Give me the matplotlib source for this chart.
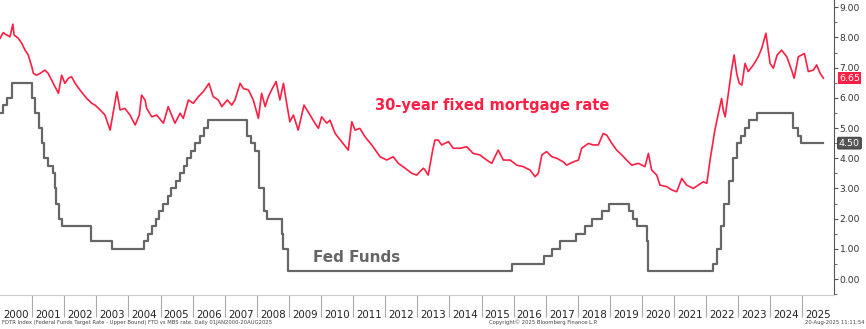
#!/usr/bin/env python

import numpy as np
import matplotlib
matplotlib.use('Agg')
import matplotlib.pyplot as plt
from matplotlib.ticker import FixedLocator, MultipleLocator, FormatStrFormatter
import matplotlib.transforms as mtrans

# 30-year fixed mortgage rate (decimal year, %)
mort_t = [2000.00, 2000.10, 2000.21, 2000.31, 2000.40, 2000.44, 2000.57, 2000.68, 2000.78, 2000.88,
          2000.99, 2001.04, 2001.14, 2001.25, 2001.40, 2001.50, 2001.66, 2001.82, 2001.92, 2002.02,
          2002.13, 2002.23, 2002.34, 2002.49, 2002.70, 2002.86, 2002.96, 2003.12, 2003.27, 2003.43,
          2003.64, 2003.74, 2003.89, 2004.05, 2004.21, 2004.34, 2004.41, 2004.52, 2004.57, 2004.73,
          2004.88, 2005.09, 2005.24, 2005.45, 2005.61, 2005.71, 2005.87, 2006.02, 2006.18, 2006.33,
          2006.51, 2006.64, 2006.80, 2006.91, 2007.08, 2007.22, 2007.32, 2007.48, 2007.58, 2007.74,
          2007.89, 2008.05, 2008.15, 2008.26, 2008.36, 2008.46, 2008.60, 2008.72, 2008.83, 2008.93,
          2009.03, 2009.14, 2009.29, 2009.47, 2009.66, 2009.81, 2009.92, 2010.02, 2010.18, 2010.28,
          2010.44, 2010.64, 2010.85, 2010.96, 2011.06, 2011.21, 2011.37, 2011.58, 2011.84, 2012.05,
          2012.25, 2012.41, 2012.62, 2012.83, 2012.98, 2013.19, 2013.24, 2013.34, 2013.48, 2013.55,
          2013.65, 2013.76, 2013.97, 2014.12, 2014.33, 2014.54, 2014.74, 2014.95, 2015.16, 2015.32,
          2015.52, 2015.68, 2015.89, 2016.10, 2016.30, 2016.51, 2016.67, 2016.77, 2016.88, 2017.03,
          2017.19, 2017.34, 2017.55, 2017.65, 2017.86, 2018.02, 2018.12, 2018.33, 2018.48, 2018.64,
          2018.79, 2018.90, 2019.06, 2019.21, 2019.37, 2019.52, 2019.68, 2019.89, 2020.09, 2020.20,
          2020.30, 2020.46, 2020.56, 2020.77, 2020.93, 2021.08, 2021.24, 2021.39, 2021.60, 2021.75,
          2021.91, 2022.02, 2022.12, 2022.27, 2022.38, 2022.48, 2022.53, 2022.59, 2022.69, 2022.79,
          2022.87, 2022.95, 2023.03, 2023.11, 2023.21, 2023.31, 2023.47, 2023.62, 2023.73, 2023.86,
          2023.99, 2024.09, 2024.21, 2024.35, 2024.51, 2024.66, 2024.74, 2024.87, 2025.06, 2025.18,
          2025.34, 2025.44, 2025.55, 2025.65]
mort_v = [7.97, 8.16, 8.08, 8.02, 8.44, 8.08, 7.97, 7.80, 7.58, 7.42,
          7.03, 6.81, 6.75, 6.81, 6.92, 6.81, 6.48, 6.15, 6.75, 6.48,
          6.65, 6.70, 6.48, 6.26, 5.98, 5.82, 5.76, 5.60, 5.43, 4.93,
          6.20, 5.60, 5.65, 5.43, 5.10, 5.43, 6.09, 5.93, 5.65, 5.37,
          5.43, 5.16, 5.71, 5.16, 5.49, 5.32, 5.93, 5.82, 6.04, 6.20,
          6.48, 6.04, 5.93, 5.71, 5.93, 5.76, 5.93, 6.48, 6.31, 6.26,
          5.93, 5.32, 6.15, 5.71, 6.04, 6.26, 6.54, 5.93, 6.48, 5.82,
          5.21, 5.43, 4.93, 5.76, 5.43, 5.16, 4.99, 5.37, 5.16, 5.26,
          4.82, 4.55, 4.27, 5.21, 4.93, 4.99, 4.71, 4.44, 4.05, 3.94,
          4.05, 3.83, 3.67, 3.50, 3.44, 3.67, 3.61, 3.44, 4.27, 4.60,
          4.60, 4.44, 4.55, 4.33, 4.33, 4.38, 4.16, 4.11, 3.94, 3.83,
          4.27, 3.94, 3.94, 3.77, 3.72, 3.61, 3.39, 3.50, 4.11, 4.22,
          4.05, 4.00, 3.88, 3.77, 3.88, 3.94, 4.33, 4.49, 4.44, 4.44,
          4.82, 4.77, 4.49, 4.27, 4.11, 3.94, 3.77, 3.83, 3.72, 4.16,
          3.61, 3.44, 3.11, 3.06, 2.95, 2.89, 3.33, 3.11, 3.00, 3.11,
          3.22, 3.17, 3.94, 4.93, 5.49, 5.98, 5.60, 5.37, 6.15, 6.92,
          7.42, 6.81, 6.48, 6.42, 7.14, 6.87, 7.09, 7.36, 7.64, 8.14,
          7.14, 6.98, 7.42, 7.58, 7.36, 6.92, 6.65, 7.36, 7.47, 6.87,
          6.92, 7.09, 6.81, 6.65]

# Fed funds target rate, upper bound (change dates as decimal year, %)
fed_t = [2000.00, 2000.09, 2000.22, 2000.37, 2001.01, 2001.08, 2001.21, 2001.30, 2001.37, 2001.49,
         2001.64, 2001.71, 2001.75, 2001.85, 2001.94, 2002.85, 2003.48, 2004.50, 2004.61, 2004.72,
         2004.86, 2004.95, 2005.09, 2005.22, 2005.34, 2005.49, 2005.61, 2005.72, 2005.83, 2005.95,
         2006.08, 2006.24, 2006.36, 2006.49, 2007.71, 2007.83, 2007.94, 2008.06, 2008.08, 2008.21,
         2008.33, 2008.77, 2008.82, 2008.96, 2015.96, 2016.95, 2017.20, 2017.45, 2017.95, 2018.22,
         2018.45, 2018.74, 2018.97, 2019.58, 2019.71, 2019.83, 2020.17, 2020.20, 2022.21, 2022.34,
         2022.46, 2022.57, 2022.72, 2022.84, 2022.96, 2023.09, 2023.22, 2023.34, 2023.57, 2024.71,
         2024.85, 2024.96, 2025.64]
fed_v = [5.50, 5.75, 6.00, 6.50, 6.00, 5.50, 5.00, 4.50, 4.00, 3.75,
         3.50, 3.00, 2.50, 2.00, 1.75, 1.25, 1.00, 1.25, 1.50, 1.75,
         2.00, 2.25, 2.50, 2.75, 3.00, 3.25, 3.50, 3.75, 4.00, 4.25,
         4.50, 4.75, 5.00, 5.25, 4.75, 4.50, 4.25, 3.50, 3.00, 2.25,
         2.00, 1.50, 1.00, 0.25, 0.50, 0.75, 1.00, 1.25, 1.50, 1.75,
         2.00, 2.25, 2.50, 2.25, 2.00, 1.75, 1.25, 0.25, 0.50, 1.00,
         1.75, 2.50, 3.25, 4.00, 4.50, 4.75, 5.00, 5.25, 5.50, 5.00,
         4.75, 4.50, 4.50]

years = list(range(2000, 2026))
RED = '#ff1f44'
GRAY = '#666666'


def main():
  plt.close('all')
  fig = plt.figure(figsize=(8.66, 3.29), dpi=100)
  ax = fig.add_axes([0.0, 0.1033, 0.963, 0.8967])

  ax.step(fed_t, fed_v, where='post', color=GRAY, lw=1.6)
  ax.plot(mort_t, mort_v, color=RED, lw=1.2)

  ax.set_xlim(2000.0, 2025.98)
  ax.set_ylim(-0.53, 9.24)

  for s in ['left', 'top']:
    ax.spines[s].set_visible(False)
  ax.spines['right'].set_color('#555555')
  ax.spines['bottom'].set_color('#cccccc')

  # right-hand value axis
  ax.yaxis.tick_right()
  ax.yaxis.set_major_locator(MultipleLocator(1))
  ax.yaxis.set_minor_locator(MultipleLocator(0.5))
  ax.yaxis.set_major_formatter(FormatStrFormatter('%.2f'))
  ax.tick_params(axis='y', which='major', length=3, width=0.8, color='#555555',
                 labelsize=6.6, pad=1, labelcolor='#333333')
  ax.tick_params(axis='y', which='minor', length=2, width=0.6, color='#555555')

  # year labels centred in each year, separators at year starts
  ax.xaxis.set_major_locator(FixedLocator([y + 0.5 for y in years]))
  ax.set_xticklabels([str(y) for y in years])
  ax.xaxis.set_minor_locator(FixedLocator(years[1:]))
  ax.tick_params(axis='x', which='major', length=0, labelsize=7.4, pad=11, labelcolor='#222222')
  ax.tick_params(axis='x', which='minor', length=16, width=0.8, color='#aaaaaa')

  # last value tags on the right axis
  tr = mtrans.blended_transform_factory(ax.transAxes, ax.transData)
  ax.text(1.006, mort_v[-1], '%.2f' % mort_v[-1], transform=tr, fontsize=6.8,
          color='white', va='center', ha='left',
          bbox=dict(boxstyle='square,pad=0.15', fc=RED, ec='none'))
  ax.text(1.006, fed_v[-1], '%.2f' % fed_v[-1], transform=tr, fontsize=6.8,
          color='white', va='center', ha='left',
          bbox=dict(boxstyle='round,pad=0.15', fc='#555555', ec='#333333', lw=0.6))

  ax.text(2015.33, 5.73, '30-year fixed mortgage rate', color=RED, fontsize=10.5,
          fontweight='bold', ha='center', va='center')
  ax.text(2011.12, 0.70, 'Fed Funds', color=GRAY, fontsize=11,
          fontweight='bold', ha='center', va='center')

  # footnotes
  fig.text(0.002, 0.012, 'FDTR Index (Federal Funds Target Rate - Upper Bound) FTD vs MBS rate. Daily 01JAN2000-20AUG2025',
           fontsize=3.8, color='#444444', ha='left', va='bottom')
  fig.text(0.565, 0.012, 'Copyright\u00a9 2025 Bloomberg Finance L.P.', fontsize=3.8,
           color='#444444', ha='left', va='bottom')
  fig.text(0.998, 0.012, '20-Aug-2025 11:11:54', fontsize=3.8, color='#444444',
           ha='right', va='bottom')

  fig.savefig('out.png', dpi=100)


if __name__ == "__main__":
  main()
